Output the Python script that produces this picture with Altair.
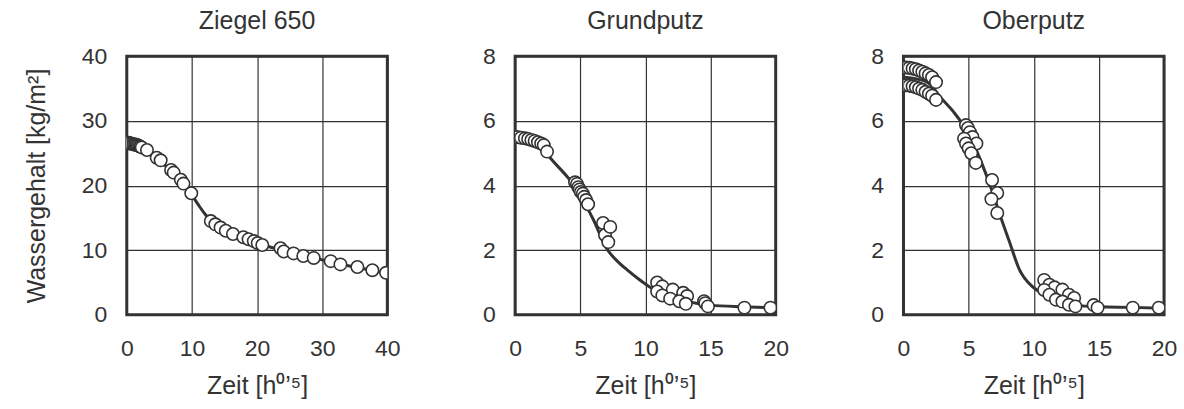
import altair as alt
import pandas as pd

# ---------------- data ----------------
titles = ["Ziegel 650", "Grundputz", "Oberputz"]

# Ziegel 650 – measured points
z_x = [0.1, 0.3, 0.5, 0.7, 0.9, 1.1, 1.3, 1.5, 1.7, 1.9, 2.1, 2.3, 3.1, 4.6, 5.2, 6.8, 7.2, 8.3, 8.7, 9.9,
       12.9, 13.6, 14.4, 15.2, 16.3, 17.9, 18.7, 19.5, 20.1, 20.8, 23.6, 24.1, 25.6, 27.1, 28.7,
       31.3, 32.8, 35.4, 37.7, 39.8]
z_y = [26.6, 26.6, 26.5, 26.5, 26.4, 26.4, 26.3, 26.3, 26.2, 26.1, 26.0, 25.9, 25.5, 24.3, 23.9, 22.4, 22.0, 20.9, 20.3, 18.8,
       14.5, 14.0, 13.5, 13.0, 12.5, 12.0, 11.7, 11.4, 11.1, 10.8, 10.3, 9.8, 9.5, 9.1, 8.8,
       8.3, 7.8, 7.4, 6.9, 6.5]
# Ziegel 650 – simulated curve
zl_x = [0, 1, 2, 3, 4, 5, 6, 7, 8, 9, 10, 11, 12, 13, 14, 15, 16, 18, 20, 22, 24, 26, 28, 30, 32, 34, 36, 38, 40]
zl_y = [26.6, 26.5, 26.2, 25.6, 24.8, 23.9, 23.0, 22.0, 21.0, 19.8, 18.5, 17.0, 15.6, 14.5, 13.7, 13.1, 12.6, 11.8,
        11.1, 10.5, 10.0, 9.5, 9.0, 8.5, 8.0, 7.6, 7.2, 6.8, 6.4]

# Grundputz – measured points
g_x = [0.15, 0.45, 0.75, 1.0, 1.25, 1.5, 1.75, 2.0, 2.2, 2.45,
       4.6, 4.75, 4.85, 4.95, 5.05, 5.2, 5.3, 5.45, 5.6,
       6.75, 6.9, 7.3, 7.15,
       10.9, 11.3, 12.1, 12.9, 13.2, 10.9, 11.3, 11.9, 12.6, 13.1,
       14.5, 14.6, 14.8, 17.6, 19.6]
g_y = [5.5, 5.48, 5.46, 5.44, 5.41, 5.38, 5.34, 5.3, 5.25, 5.05,
       4.1, 4.05, 3.95, 3.88, 3.8, 3.75, 3.65, 3.55, 3.42,
       2.84, 2.47, 2.72, 2.25,
       1.0, 0.88, 0.78, 0.68, 0.58, 0.72, 0.6, 0.5, 0.42, 0.34,
       0.42, 0.36, 0.26, 0.22, 0.22]
# Grundputz – simulated curve
gl_x = [0, 1, 2, 2.7, 4, 5, 5.5, 6, 7, 8, 8.6, 9.5, 10.3, 11, 12, 13, 14, 15, 17.5, 20]
gl_y = [5.55, 5.45, 5.2, 4.85, 4.27, 3.75, 3.34, 2.95, 2.07, 1.6, 1.39, 1.1, 0.87, 0.72, 0.55, 0.43, 0.35, 0.3, 0.25, 0.22]

# Oberputz – measured points
o_x = [0.2, 0.45, 0.7, 0.95, 1.2, 1.45, 1.7, 1.95, 2.2, 2.5,
       0.2, 0.45, 0.7, 0.95, 1.2, 1.45, 1.7, 1.95, 2.2, 2.5,
       4.8, 4.95, 5.1, 5.3, 5.6, 4.65, 4.8, 5.0, 5.2, 5.55,
       6.8, 7.2, 6.75, 7.2,
       10.8, 11.2, 11.6, 12.2, 12.7, 13.1, 10.8, 11.2, 11.7, 12.2, 12.7, 13.2,
       14.6, 14.9, 17.6, 19.6]
o_y = [7.65, 7.64, 7.62, 7.6, 7.56, 7.52, 7.47, 7.42, 7.35, 7.2,
       7.1, 7.09, 7.07, 7.04, 7.0, 6.96, 6.9, 6.84, 6.78, 6.65,
       5.87, 5.78, 5.65, 5.5, 5.3, 5.45, 5.3, 5.15, 5.0, 4.7,
       4.17, 3.77, 3.58, 3.15,
       1.08, 0.93, 0.85, 0.78, 0.62, 0.52, 0.77, 0.62, 0.47, 0.41, 0.31, 0.26,
       0.3, 0.22, 0.22, 0.22]
# Oberputz – simulated curve
ol_x = [0, 1, 2, 2.8, 3.8, 5, 6, 7, 7.4, 8.1, 8.9, 9.9, 11, 12, 13, 15, 17.5, 20]
ol_y = [7.35, 7.3, 7.15, 6.75, 6.3, 5.6, 4.7, 3.6, 3.1, 2.3, 1.4, 0.87, 0.6, 0.42, 0.3, 0.25, 0.23, 0.2]

x_ticks_1 = [0, 10, 20, 30, 40]
x_ticks_2 = [0, 5, 10, 15, 20]
y_ticks_1 = [0, 10, 20, 30, 40]
y_ticks_2 = [0, 2, 4, 6, 8]

DARK = "#333333"
FONT = "Liberation Sans"
X_TITLE = "Zeit [h\u2070\u2019\u2075]"
Y_TITLE = "Wassergehalt [kg/m\u00b2]"


def panel(title, px, py, lx, ly, xticks, yticks, ytitle):
    pts = pd.DataFrame({"x": px, "y": py})
    crv = pd.DataFrame({"x": lx, "y": ly})
    xenc = alt.X("x:Q", scale=alt.Scale(domain=[xticks[0], xticks[-1]], nice=False),
                 axis=alt.Axis(values=xticks, title=X_TITLE))
    yaxis = alt.Axis(values=yticks, title=ytitle) if ytitle else alt.Axis(values=yticks, title=None)
    yenc = alt.Y("y:Q", scale=alt.Scale(domain=[yticks[0], yticks[-1]], nice=False), axis=yaxis)
    line = alt.Chart(crv).mark_line(color=DARK, strokeWidth=3, interpolate="monotone", clip=True).encode(
        x=xenc, y=yenc)
    dots = alt.Chart(pts).mark_point(filled=True, fill="white", stroke=DARK, strokeWidth=1.6,
                                     size=155, opacity=1, clip=True).encode(x="x:Q", y="y:Q")
    return alt.layer(line, dots).properties(
        width=261, height=259,
        title=alt.TitleParams(title, fontSize=25, font=FONT, color=DARK, fontWeight="normal", offset=11))


c1 = panel(titles[0], z_x, z_y, zl_x, zl_y, x_ticks_1, y_ticks_1, Y_TITLE)
c2 = panel(titles[1], g_x, g_y, gl_x, gl_y, x_ticks_2, y_ticks_2, None)
c3 = panel(titles[2], o_x, o_y, ol_x, ol_y, x_ticks_2, y_ticks_2, None)

chart = alt.hconcat(c1, c2, c3, spacing=128, bounds="flush").properties(
    padding={"left": 22, "top": 7, "right": 5, "bottom": 5},
    background="white"
).configure_view(
    stroke=DARK, strokeWidth=3
).configure_axis(
    grid=True, gridColor=DARK, gridWidth=1.2, gridOpacity=1,
    domain=False, ticks=False,
    labelFont=FONT, labelFontSize=23, labelColor=DARK, labelFlush=False, labelOverlap=False,
    titleFont=FONT, titleFontSize=25, titleColor=DARK, titleFontWeight="normal"
).configure_axisX(
    labelPadding=23, titlePadding=13
).configure_axisY(
    labelPadding=20, titlePadding=32
)

chart.save("out.html", embed_options={"renderer": "svg", "actions": False})
